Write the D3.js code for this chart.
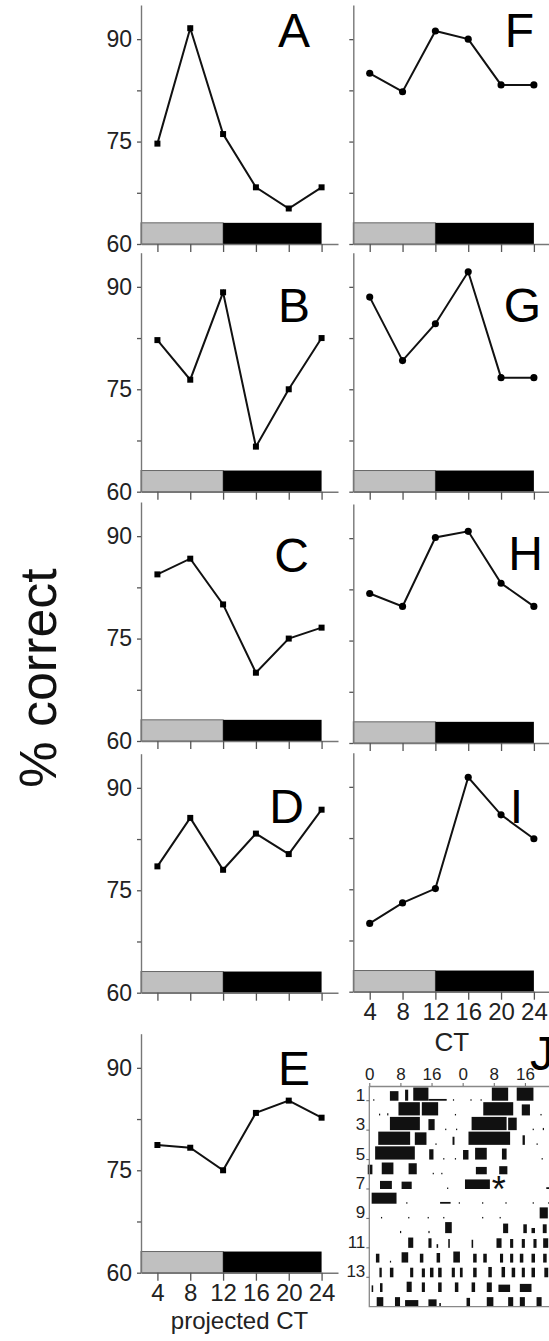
<!DOCTYPE html>
<html>
<head>
<meta charset="utf-8">
<script src="https://cdn.jsdelivr.net/npm/d3@7"></script>
<style>
  body { margin: 0; background: #fff; }
  svg { display: block; font-family: "Liberation Sans", Arial, sans-serif; }
</style>
</head>
<body>
<script>
// CT sampling points shared by every panel
const ctPoints = [4, 8, 12, 16, 20, 24];
const yTickMajor = [60, 75, 90];
const yTickMinor = [67.5, 82.5];

// % correct, projected CT panels (squares)
const valuesA = [74.7, 91.6, 76.1, 68.3, 65.2, 68.3];
const valuesB = [82.2, 76.4, 89.2, 66.6, 75.0, 82.5];
const valuesC = [84.4, 86.7, 80.0, 70.0, 75.0, 76.6];
const valuesD = [78.5, 85.6, 78.0, 83.3, 80.3, 86.8];
const valuesE = [78.7, 78.3, 75.0, 83.4, 85.2, 82.7];
// % correct, CT panels (circles)
const valuesF = [85.0, 82.3, 91.2, 90.0, 83.3, 83.3];
const valuesG = [88.5, 79.2, 84.6, 92.2, 76.7, 76.7];
const valuesH = [81.9, 80.0, 90.1, 91.0, 83.4, 80.0];
const valuesI = [70.0, 73.0, 75.1, 91.4, 85.9, 82.4];

// light / dark phase bar
const lightPhase = [0, 12];
const darkPhase = [12, 24];
const phaseBarTop = 63.1;

// actogram (panel J), double plotted: [startHour, endHour, level] per row
const actoHourTicks = [0, 8, 16, 24, 32, 40];
const actoRowLabels = [1, 3, 5, 7, 9, 11, 13];
const actogramRows = [
  [[1, 1.3, .1], [5.3, 7.5, .65], [9.2, 10, .75], [11.3, 15.2, .9], [15.2, 19.9, .12], [21.5, 21.8, .1], [26, 26.3, .1], [28.6, 28.9, .1], [31.5, 35.7, .9], [37.9, 42.2, .9]],
  [[2.5, 2.8, .12], [4.6, 4.9, .15], [7.5, 13, .9], [13.5, 17.7, .9], [22, 22.3, .1], [29.3, 37, .9], [39.2, 41.3, .75], [44, 44.3, .1]],
  [[5.3, 13, .9], [15.2, 16.8, .75], [19.5, 19.8, .1], [22.3, 22.6, .1], [26.3, 35.3, .9], [35.7, 37.9, .85], [42, 42.3, .1], [44.6, 44.9, .15]],
  [[2.3, 10.5, .9], [11.7, 14.7, .85], [17, 17.3, .1], [21.4, 21.9, .55], [25.5, 36.2, .9], [39.4, 40, .65], [43, 43.3, .1]],
  [[1.5, 11.7, .9], [15.4, 16.5, .7], [19, 19.3, .1], [22, 22.3, .1], [24.1, 25.5, .65], [27.2, 30.2, .8], [34.1, 35.3, .75], [44.3, 44.6, .1]],
  [[-0.4, 0.8, .65], [3.2, 6.2, .8], [10.1, 12.2, .75], [16.3, 16.6, .1], [18.5, 18.8, .1], [27.4, 30.2, .5], [33.4, 35.5, .55]],
  [[2.75, 5.8, .55], [8.3, 10.9, .5], [20, 20.3, .1], [24.6, 31, .65], [45.5, 46.5, .12]],
  [[0.6, 7, .75], [9.5, 9.8, .1], [18.2, 20.9, .12], [23, 23.3, .1], [29, 29.3, .1], [35, 35.3, .1], [42, 42.3, .1], [46, 46.3, .1]],
  [[3, 3.3, .1], [10, 10.3, .1], [15, 15.3, .1], [19, 19.3, .1], [29, 29.3, .1], [33.5, 33.8, .1], [43.8, 45.9, .75]],
  [[7.9, 8.2, .15], [15.2, 15.5, .15], [19.5, 21.2, .75], [34.4, 35.7, .65], [39.6, 40.5, .6], [41.7, 42.6, .35], [44.6, 45.6, .6]],
  [[10, 11.3, .7], [15.2, 16, .65], [17.3, 17.7, .25], [20.3, 20.7, .6], [26.3, 26.7, .55], [32.7, 34, .65], [36.2, 37, .6], [39.2, 40, .6], [42.2, 43, .6], [44.7, 46, .65]],
  [[1.7, 2.6, .6], [5.3, 5.6, .12], [8.3, 10, .7], [13, 13.9, .6], [17.3, 18.2, .65], [21.6, 23.3, .75], [26.7, 27.6, .6], [29.3, 30.2, .6], [33.6, 34.4, .6], [36.2, 37, .6], [38.7, 39.6, .6], [41.7, 42.6, .6], [44.7, 45.6, .6]],
  [[2.6, 3.2, .65], [5.3, 6.2, .65], [10.5, 11.3, .65], [13.5, 14.3, .6], [15.6, 16.5, .65], [17.7, 18.6, .65], [21.2, 22, .65], [23.3, 24, .65], [26.7, 27.6, .65], [30.6, 31.5, .7], [34, 34.9, .7], [36.6, 37.5, .65], [39.2, 40, .65], [41.7, 42.6, .65], [45, 46, .65]],
  [[0.6, 1, .45], [2.75, 3.4, .6], [9.6, 10.9, .7], [13.5, 14.3, .65], [17.7, 18.6, .65], [22, 22.9, .65], [26.3, 27.2, .65], [30.2, 31.5, .65], [33.2, 36.2, .5], [38.7, 41.7, .55]],
  [[1.9, 3.6, .65], [6.6, 7.9, .65], [9.2, 12.6, .45], [15.2, 17.3, .5], [18, 18.4, .25], [25, 25.9, .6], [30.2, 31.9, .65], [35.7, 37, .65], [38.7, 40, .65], [43, 44.3, .65]]
];
const treatmentMark = {row: 7, hour: 33};

// layout
const width = 549, height = 1341;
const plotH = 239;
const columns = [
  {left: 141, right: 338, marker: d3.symbolSquare, markerSize: 36, yLabels: true},
  {left: 353.3, right: 550.3, marker: d3.symbolCircle, markerSize: 40, yLabels: false}
];
const panels = [
  {name: "A", values: valuesA, col: 0, base: 244, lx: 310, ly: 47},
  {name: "B", values: valuesB, col: 0, base: 491.7, lx: 310, ly: 322},
  {name: "C", values: valuesC, col: 0, base: 741, lx: 309, ly: 572},
  {name: "D", values: valuesD, col: 0, base: 992.7, lx: 304, ly: 823},
  {name: "E", values: valuesE, col: 0, base: 1272.7, lx: 310, ly: 1085, xTitle: "projected CT"},
  {name: "F", values: valuesF, col: 1, base: 244, lx: 534, ly: 47},
  {name: "G", values: valuesG, col: 1, base: 491.7, lx: 541, ly: 322},
  {name: "H", values: valuesH, col: 1, base: 743, lx: 543, ly: 570},
  {name: "I", values: valuesI, col: 1, base: 991.7, lx: 523, ly: 823, xTitle: "CT"}
];

const svg = d3.select("body").append("svg")
  .attr("width", width)
  .attr("height", height);

panels.forEach(drawPanel);
drawActogram();

svg.append("text")
  .attr("transform", "translate(56,678) rotate(-90)")
  .attr("text-anchor", "middle")
  .attr("font-size", 52)
  .attr("fill", "#111")
  .text("% correct");

function drawPanel(p) {
  const col = columns[p.col];
  const x = d3.scaleLinear().domain([2, 26]).range([col.left, col.right]).clamp(true);
  const y = d3.scaleLinear().domain([60, 95]).range([p.base, p.base - plotH]);
  const g = svg.append("g").attr("class", "panel");

  // phase bar
  g.append("rect")
    .attr("x", x(lightPhase[0]))
    .attr("width", x(lightPhase[1]) - x(lightPhase[0]))
    .attr("y", y(phaseBarTop))
    .attr("height", y(60) - y(phaseBarTop))
    .attr("fill", "#c0c0c0")
    .attr("stroke", "#666")
    .attr("stroke-width", 1);
  g.append("rect")
    .attr("x", x(darkPhase[0]))
    .attr("width", x(darkPhase[1]) - x(darkPhase[0]))
    .attr("y", y(phaseBarTop))
    .attr("height", y(60) - y(phaseBarTop))
    .attr("fill", "#000");

  // axes
  const yAxis = d3.axisLeft(y)
    .tickValues(yTickMajor.concat(yTickMinor))
    .tickSize(4)
    .tickSizeOuter(0)
    .tickPadding(5)
    .tickFormat(d => col.yLabels && yTickMajor.includes(d) ? d : "");
  const g_yAxis = g.append("g")
    .attr("transform", `translate(${col.left},0)`)
    .call(yAxis);

  const xAxis = d3.axisBottom(x)
    .tickValues(ctPoints)
    .tickSize(8)
    .tickSizeOuter(0)
    .tickPadding(3)
    .tickFormat(d => p.xTitle ? d : "");
  const g_xAxis = g.append("g")
    .attr("transform", `translate(0,${p.base})`)
    .call(xAxis);

  [g_yAxis, g_xAxis].forEach(ax => {
    ax.attr("font-family", null).attr("font-size", null);
    ax.select(".domain").attr("stroke", "#777").attr("stroke-width", 1.4);
    ax.selectAll(".tick line").attr("stroke", "#555").attr("stroke-width", 1.3);
    ax.selectAll(".tick text").attr("fill", "#222");
  });
  g_yAxis.selectAll(".tick text").attr("font-size", 23);
  g_xAxis.selectAll(".tick text").attr("font-size", 24);

  if (p.xTitle) {
    g.append("text")
      .attr("x", (col.left + col.right) / 2)
      .attr("y", p.xTitle === "CT" ? p.base + 59 : p.base + 56)
      .attr("text-anchor", "middle")
      .attr("font-size", p.xTitle === "CT" ? 26 : 24)
      .attr("fill", "#222")
      .text(p.xTitle);
  }

  // series
  const line = d3.line()
    .x((d, i) => x(ctPoints[i]))
    .y(d => y(d));
  g.append("path")
    .datum(p.values)
    .attr("d", line)
    .attr("fill", "none")
    .attr("stroke", "#111")
    .attr("stroke-width", 2);

  g.selectAll(".marker").data(p.values)
    .enter().append("path")
    .attr("class", "marker")
    .attr("transform", (d, i) => `translate(${x(ctPoints[i])},${y(d)})`)
    .attr("d", d3.symbol().type(col.marker).size(col.markerSize))
    .attr("fill", "#000");

  // panel letter
  g.append("text")
    .attr("x", p.lx)
    .attr("y", p.ly)
    .attr("text-anchor", "end")
    .attr("font-size", 48)
    .attr("fill", "#000")
    .text(p.name);
}

function drawActogram() {
  const top = 1086, bottom = 1306.7, left = 369.3, right = 556;
  const x = d3.scaleLinear().domain([0, 48]).range([left, right]);
  const y = d3.scaleBand().domain(d3.range(1, actogramRows.length + 1)).range([top, bottom]);
  const bw = y.bandwidth();
  const g = svg.append("g").attr("class", "actogram");

  actogramRows.forEach((bouts, i) => {
    const row = i + 1;
    g.selectAll(null).data(bouts)
      .enter().append("rect")
      .attr("x", d => x(d[0]))
      .attr("width", d => Math.max(1, x(d[1]) - x(d[0])))
      .attr("y", d => y(row) + bw - d[2] * bw)
      .attr("height", d => d[2] * bw)
      .attr("fill", "#111");
  });

  // frame
  g.append("path")
    .attr("d", `M${left},${top}V${bottom}H${right}`)
    .attr("fill", "none")
    .attr("stroke", "#888")
    .attr("stroke-width", 1.3);

  const topAxis = d3.axisTop(x)
    .tickValues(actoHourTicks)
    .tickSize(3)
    .tickSizeOuter(0)
    .tickPadding(3)
    .tickFormat(d => d % 24);
  const g_top = g.append("g")
    .attr("transform", `translate(0,${top})`)
    .call(topAxis)
    .attr("font-family", null)
    .attr("font-size", null);
  g_top.select(".domain").attr("stroke", "#888").attr("stroke-width", 1.3);
  g_top.selectAll(".tick line").attr("stroke", "#666");
  g_top.selectAll(".tick text").attr("font-size", 17).attr("fill", "#222");

  const rowTicks = g.selectAll(".row-label").data(actoRowLabels)
    .enter().append("g")
    .attr("class", "row-label")
    .attr("transform", d => `translate(${left},${y(d) + bw})`);
  rowTicks.append("line")
    .attr("x1", -3).attr("x2", 0)
    .attr("stroke", "#666");
  rowTicks.append("text")
    .attr("x", -4)
    .attr("y", 0)
    .attr("text-anchor", "end")
    .attr("font-size", 17)
    .attr("fill", "#222")
    .text(d => d);

  g.append("text")
    .attr("x", x(treatmentMark.hour) + 1)
    .attr("y", y(treatmentMark.row) + bw + 13)
    .attr("text-anchor", "middle")
    .attr("font-size", 36)
    .attr("fill", "#111")
    .text("*");

  g.append("text")
    .attr("x", 530)
    .attr("y", 1070)
    .attr("font-size", 48)
    .attr("fill", "#000")
    .text("J");
}
</script>
</body>
</html>
